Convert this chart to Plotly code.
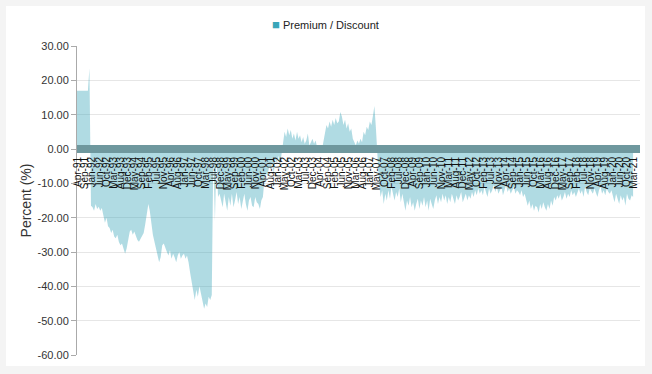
import pandas as pd
import plotly.graph_objects as go

# Monthly premium / discount (%), Apr-1991 .. Mar-2021
v1991 = [17, 17, 17, 17, 17, 17, 17, 17, 23.5]  # Apr..Dec
v1992 = [-16.5, -17, -18, -16, -17.5, -16.8, -18, -17.2, -19, -21.5, -20, -22.5]
v1993 = [-23, -24.5, -23.5, -25.5, -26, -25, -27, -28, -27.5, -29, -30.5, -29]
v1994 = [-26, -24, -23.5, -25, -24, -25.5, -26.5, -27, -26, -25, -24.5, -22]
v1995 = [-19, -16, -18, -22, -25, -27, -29, -31, -33, -31.5, -28, -27.5]
v1996 = [-29, -30, -31, -29.5, -32, -30.5, -31.5, -33, -31, -30, -32, -31]
v1997 = [-30.5, -32, -31, -33, -36, -39, -42, -44, -41, -43, -40, -42]
v1998 = [-44, -46.5, -45, -46, -43, -44, -42.5, -1, -21, -2, -14, -13]
v1999 = [-15, -17, -13, -16, -18, -14, -16.5, -13, -17, -15, -12.5, -16]
v2000 = [-14, -17.5, -15, -13, -16, -18, -15, -14, -16.5, -17, -14, -15.5]
v2001 = [-16, -17.5, -15, -14, -9, -7, -8, -5, -6, -4, -7, -3]
v2002 = [-4, -2, -5, -1.5, 2, 5, 3.5, 6, 4, 5.5, 3, 4.5]
v2003 = [2.5, 5, 3, 4, 2, 3.5, 1.5, 2.5, 4.5, 1, 2, 3]
v2004 = [1.5, 2.5, 0.5, 1, -1, -0.5, 2, 5, 7, 6, 8, 6.5]
v2005 = [8.5, 7, 9, 7.5, 8, 10.8, 9.5, 7, 8.5, 6, 7.5, 5]
v2006 = [6, 3, 2, 1, 2.5, 1.5, 3, 2, 5, 4, 6.5, 5.5]
v2007 = [8, 7, 9.5, 12.5, 6, -4, -10, -14, -12, -16, -13, -15]
v2008 = [-12, -14.5, -11, -13, -15, -12.5, -14, -11.5, -15.5, -13, -16, -18]
v2009 = [-15, -16.5, -14, -17, -15.5, -18, -16, -14.5, -17.5, -15, -16.5, -14]
v2010 = [-17, -15, -18, -14.5, -16, -17.5, -15, -13.5, -16, -14, -15.5, -13]
v2011 = [-15, -13.5, -16, -14, -15.5, -13, -14.5, -16, -13.5, -15, -14, -12.5]
v2012 = [-15.5, -14, -13, -15, -13.5, -14.5, -12.5, -14, -12, -13.5, -11.5, -13]
v2013 = [-12, -13.5, -11, -12.5, -14, -11.5, -13, -12, -10.5, -12.5, -11, -13]
v2014 = [-12, -11, -13.5, -12, -10.5, -12.5, -11.5, -13, -12, -11, -13, -12]
v2015 = [-12.5, -13.5, -12, -14, -13, -15, -16.5, -15, -17.5, -16, -18, -16.5]
v2016 = [-17, -18.5, -16, -17.5, -15.5, -17, -18, -16, -17.5, -15, -16.5, -14]
v2017 = [-15, -13.5, -14.5, -13, -15, -14, -12.5, -14.5, -13, -14, -12, -13.5]
v2018 = [-12.5, -14, -13, -11.5, -13, -12, -14, -11, -12.5, -13.5, -11.5, -12.5]
v2019 = [-13, -11.5, -12.5, -14, -12, -11, -13, -12, -13.5, -11.5, -12.5, -13]
v2020 = [-12, -14, -15.5, -13, -14.5, -16, -13.5, -15, -14, -16.5, -13, -14.5]
v2021 = [-15, -13.5, -14]  # Jan..Mar

values = (v1991 + v1992 + v1993 + v1994 + v1995 + v1996 + v1997 + v1998 + v1999
          + v2000 + v2001 + v2002 + v2003 + v2004 + v2005 + v2006 + v2007 + v2008
          + v2009 + v2010 + v2011 + v2012 + v2013 + v2014 + v2015 + v2016 + v2017
          + v2018 + v2019 + v2020 + v2021)
dates = pd.date_range("1991-04-01", periods=len(values), freq="MS")

# tick labels every 20 weeks, formatted like "Apr-91"
tick_dates = pd.date_range("1991-04-19", "2021-03-31", freq="140D")
tick_text = [d.strftime("%b-%y") for d in tick_dates]

y_ticks = [30, 20, 10, 0, -10, -20, -30, -40, -50, -60]
y_tick_text = ["30.00", "20.00", "10.00", "0.00", "-10.00", "-20.00",
               "-30.00", "-40.00", "-50.00", "-60.00"]
series_name = "Premium / Discount"
series_color = "#3aa6b9"

fig = go.Figure()
fig.add_trace(go.Scatter(
    x=dates, y=values, mode="lines", fill="tozeroy", name=series_name,
    fillcolor="rgba(58,166,185,0.4)", line=dict(width=0, color=series_color),
    showlegend=False, hoverinfo="x+y",
))

# white card behind the chart
fig.add_shape(type="rect", xref="paper", yref="paper",
              x0=-0.1261, x1=1.0089, y0=-0.0356, y1=1.1294,
              fillcolor="white", line=dict(width=0), layer="below")

# legend entry (square swatch + series name)
fig.add_annotation(
    xref="paper", yref="paper", x=0.4405, y=1.071, xanchor="center", yanchor="middle",
    text=f"<span style='color:{series_color};font-size:13px'>■</span> {series_name}",
    showarrow=False, font=dict(size=11, color="#222"),
)

fig.update_layout(
    width=652, height=374,
    margin=dict(l=77, r=12, t=46, b=19),
    paper_bgcolor="#f4f4f4", plot_bgcolor="white",
    font=dict(family="Liberation Sans, Arial, sans-serif", color="#333"),
    showlegend=False,
    xaxis=dict(
        type="date", range=["1991-04-01", "2021-07-15"],
        tickvals=tick_dates, ticktext=tick_text, tickangle=-90,
        tickfont=dict(size=10, color="#111"),
        anchor="free", position=0.6667,
        showgrid=False, zeroline=False, ticks="",
        showline=True, linewidth=8, linecolor="#6f989e",
    ),
    yaxis=dict(
        range=[-60, 30], tickvals=y_ticks, ticktext=y_tick_text,
        tickfont=dict(size=11, color="#333"),
        showgrid=True, gridcolor="#e6e6e6", gridwidth=1,
        zeroline=False, showline=True, linecolor="#aaaaaa", linewidth=1,
        ticks="outside", ticklen=5, tickcolor="#aaaaaa",
        title=dict(text="Percent (%)", font=dict(size=14, color="#333"), standoff=2),
    ),
)

fig.write_html("out.html", config={"displayModeBar": False},
               post_script="document.body.style.margin='0';")
